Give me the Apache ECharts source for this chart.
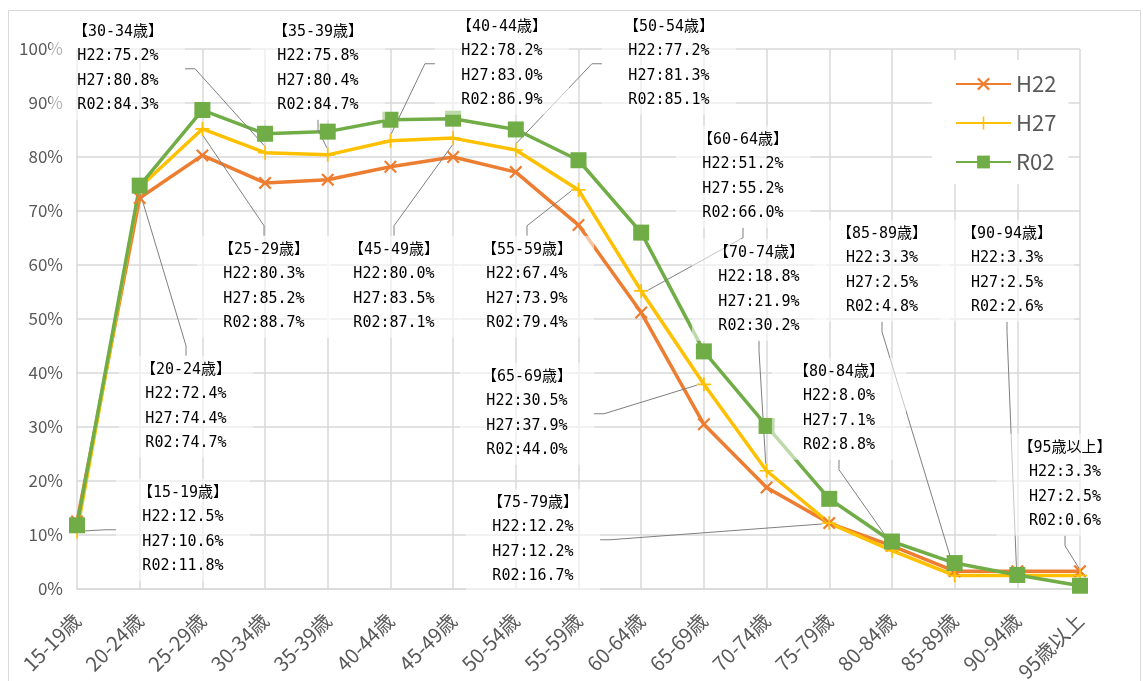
<!DOCTYPE html>
<html>
<head>
<meta charset="utf-8">
<script src="https://cdn.jsdelivr.net/npm/echarts@6/dist/echarts.min.js"></script>
<style>
  html, body { margin: 0; padding: 0; background: #fff; }
  #chart { width: 1143px; height: 681px; }
</style>
</head>
<body>
<div id="chart"></div>
<script>
const categories = ['15-19歳', '20-24歳', '25-29歳', '30-34歳', '35-39歳', '40-44歳', '45-49歳', '50-54歳', '55-59歳',
  '60-64歳', '65-69歳', '70-74歳', '75-79歳', '80-84歳', '85-89歳', '90-94歳', '95歳以上']
const h22 = [12.5, 72.4, 80.3, 75.2, 75.8, 78.2, 80.0, 77.2, 67.4, 51.2, 30.5, 18.8, 12.2, 8.0, 3.3, 3.3, 3.3]
const h27 = [10.6, 74.4, 85.2, 80.8, 80.4, 83.0, 83.5, 81.3, 73.9, 55.2, 37.9, 21.9, 12.2, 7.1, 2.5, 2.5, 2.5]
const r02 = [11.8, 74.7, 88.7, 84.3, 84.7, 86.9, 87.1, 85.1, 79.4, 66.0, 44.0, 30.2, 16.7, 8.8, 4.8, 2.6, 0.6]
const yTicks = [0, 100, 10]

// where each callout box sits (center x, center of first text line)
const calloutAt = [[183, 493], [186, 370], [264, 250], [118, 32], [318, 32], [502, 27], [394, 250], [669, 27],
  [527, 250], [743, 140], [527, 377], [759, 253], [533, 503], [839, 372], [882, 234], [1007, 234], [1065, 448]]

const LINE_H = 24.5
const crossPath = 'path://M0,1.2L1.2,0L5,3.8L8.8,0L10,1.2L6.2,5L10,8.8L8.8,10L5,6.2L1.2,10L0,8.8L3.8,5Z'
const plusPath = 'path://M4.4,0H5.6V4.4H10V5.6H5.6V10H4.4V5.6H0V4.4H4.4Z'

const calloutText = (i) => '【' + categories[i] + '】\nH22:' + h22[i].toFixed(1) + '%\nH27:' +
  h27[i].toFixed(1) + '%\nR02:' + r02[i].toFixed(1) + '%'

const chart = echarts.init(document.getElementById('chart'))

const option = {
  animation: false,
  backgroundColor: '#fff',
  graphic: [{
    type: 'rect',
    shape: { x: 8.5, y: 10.5, width: 1132, height: 720 },
    style: { fill: 'none', stroke: '#d9d9d9', lineWidth: 1 },
    silent: true
  }],
  grid: { left: 77, right: 63, top: 49, bottom: 92, outerBoundsMode: 'none', containLabel: false },
  legend: {
    orient: 'vertical',
    left: 932,
    top: 60,
    padding: [13, 12, 11, 23],
    backgroundColor: '#fff',
    itemWidth: 55,
    itemHeight: 16,
    itemGap: 17,
    textStyle: { fontSize: 22, color: '#595959', fontFamily: 'Noto Sans CJK JP' },
    data: ['H22', 'H27', 'R02']
  },
  xAxis: {
    type: 'category',
    data: categories,
    boundaryGap: false,
    axisLine: { lineStyle: { color: '#d9d9d9', width: 1.5 } },
    axisTick: { show: false },
    axisLabel: {
      interval: 0,
      rotate: 45,
      margin: 28,
      fontSize: 20,
      color: '#595959',
      fontFamily: 'Noto Sans CJK JP'
    },
    splitLine: { show: true, interval: 0, lineStyle: { color: '#d9d9d9', width: 1.5 } }
  },
  yAxis: {
    type: 'value',
    min: yTicks[0],
    max: yTicks[1],
    interval: yTicks[2],
    axisLine: { show: false },
    axisTick: { show: false },
    axisLabel: {
      formatter: '{value}%',
      fontSize: 17,
      color: '#595959',
      margin: 14,
      padding: [8, 0, 0, 0],
      fontFamily: 'Noto Sans CJK JP'
    },
    splitLine: { lineStyle: { color: '#d9d9d9', width: 1.5 } }
  },
  series: [
    {
      name: 'H22',
      type: 'line',
      data: h22,
      symbol: crossPath,
      symbolSize: 13,
      itemStyle: { color: '#ED7D31' },
      lineStyle: { color: '#ED7D31', width: 3.5 },
      emphasis: { disabled: true }
    },
    {
      name: 'H27',
      type: 'line',
      data: h27,
      symbol: plusPath,
      symbolSize: 14,
      itemStyle: { color: '#FFC000' },
      lineStyle: { color: '#FFC000', width: 3.5 },
      emphasis: { disabled: true },
      label: {
        show: true,
        formatter: (p) => calloutText(p.dataIndex),
        fontFamily: 'DejaVu Sans Mono, Noto Sans CJK JP',
        fontSize: 15,
        lineHeight: LINE_H,
        color: '#000',
        align: 'center',
        backgroundColor: 'rgba(255,255,255,0.55)',
        padding: [2, 22]
      },
      labelLine: {
        show: true,
        length2: 10,
        minTurnAngle: 0,
        lineStyle: { color: '#7f7f7f', width: 1 }
      },
      labelLayout: (params) => {
        const p = calloutAt[params.dataIndex]
        return { x: p[0], y: p[1] + LINE_H * 1.5, align: 'center', verticalAlign: 'middle' }
      }
    },
    {
      name: 'R02',
      type: 'line',
      data: r02,
      symbol: 'rect',
      symbolSize: 16,
      itemStyle: { color: '#70AD47' },
      lineStyle: { color: '#70AD47', width: 3.5 },
      emphasis: { disabled: true }
    }
  ]
}

chart.setOption(option)
</script>
</body>
</html>
